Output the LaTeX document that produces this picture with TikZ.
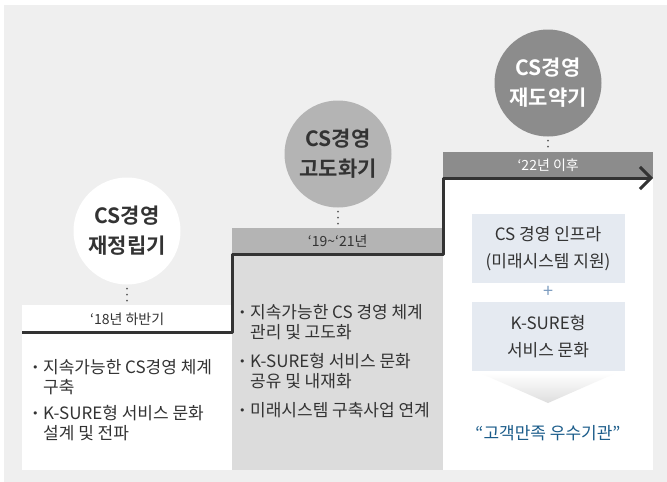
\documentclass[tikz,border=0pt]{standalone}
\usepackage{fontspec}
\setmainfont{Noto Sans CJK KR}[BoldFont={Noto Sans CJK KR Bold}]
\newfontfamily\symfont{DejaVu Sans}
\usetikzlibrary{arrows.meta}
\definecolor{bggray}{HTML}{EFEFEF}
\definecolor{bodygray}{HTML}{DCDCDC}
\definecolor{midgray}{HTML}{B4B4B4}
\definecolor{stepgray}{HTML}{8C8C8C}
\definecolor{boxblue}{HTML}{E5EAF1}
\definecolor{plusblue}{HTML}{7C9CC0}
\definecolor{quoteblue}{HTML}{1B5C8A}
\definecolor{txt}{HTML}{333333}
\newcommand{\bul}{\makebox[11pt][l]{\raisebox{1.5pt}{\symfont\fontsize{11}{11}\selectfont •}}}
\newcommand{\ind}{\hspace*{11pt}}
\tikzset{
  phase/.style={circle, minimum size=107pt, inner sep=0pt, align=center, font=\fontsize{21}{30}\selectfont\bfseries},
  band/.style={minimum width=210pt, minimum height=26pt, inner sep=0pt, anchor=north west, font=\fontsize{14}{16}\selectfont},
  dots/.style={line width=2pt, dash pattern=on 0pt off 6pt, line cap=round, color=txt!80, shorten <=4pt, shorten >=4pt},
  items/.style={align=left, anchor=west, inner sep=0pt, font=\fontsize{17}{20}\selectfont},
  infobox/.style={fill=boxblue, minimum width=153pt, minimum height=69pt, inner sep=0pt, align=center, font=\fontsize{17}{27}\selectfont},
  stepline/.style={line width=3pt, color=txt, -{Straight Barb[length=11pt, width=22pt]}}
}
\begin{document}
\begin{tikzpicture}[x=1pt, y=-1pt, line join=round, color=txt]
	\def\xa{22} \def\xb{232} \def\xc{443} \def\xd{653} \def\ybot{470}
	\useasboundingbox (0,0) rectangle (667,482);
	\fill[white] (0,0) rectangle (667,482);
	\fill[bggray] (4,5) rectangle (667,482);
	% panels
	\fill[white] (\xa,305) rectangle (\xb,\ybot);
	\fill[bodygray] (\xb,254) rectangle (\xc,\ybot);
	\fill[white] (\xc,178) rectangle (\xd,\ybot);
	% bands
	\node[band, fill=white] (b18) at (\xa,306) {‘18년 하반기};
	\node[band, fill=midgray, minimum width=211pt] (b19) at (\xb,228) {‘19\textasciitilde‘21년};
	\node[band, fill=stepgray, text=white] (b22) at (\xc,152) {‘22년 이후};
	% circles
	\node[phase, fill=white] (c18) at (127,231) {CS경영\\재정립기};
	\node[phase, fill=midgray] (c19) at (338,154) {CS경영\\고도화기};
	\node[phase, fill=stepgray, text=white] (c22) at (548,83) {CS경영\\재도약기};
	\foreach \c/\b in {c18/b18, c19/b19, c22/b22}
		\draw[dots] (\c.south) -- (\c.south |- \b.north);
	% step line
	\coordinate (s0) at (\xa,332);
	\coordinate (s1) at (\xb,254);
	\coordinate (s2) at (\xc,178);
	\coordinate (s3) at (\xd,178);
	\draw[stepline] (s0) -| (s1) -| (s2) -- (s3);
	% left
	\node[items] (l1) at (32,376.7) {\bul 지속가능한 CS경영 체계\\\ind 구축};
	\node[items] (l2) at (32,423) {\bul K-SURE형 서비스 문화\\\ind 설계 및 전파};
	% middle
	\node[items] (m1) at (239,321.7) {\bul 지속가능한 CS 경영 체계\\\ind 관리 및 고도화};
	\node[items] (m2) at (239,370.8) {\bul K-SURE형 서비스 문화\\\ind 공유 및 내재화};
	\node[items] (m3) at (239,410) {\bul 미래시스템 구축사업 연계};
	% right
	\node[infobox] (infra) at (548,248.5) {CS 경영 인프라\\(미래시스템 지원)};
	\node[infobox] (culture) at (548,336.5) {K-SURE형\\서비스 문화};
	\node[text=plusblue, font=\fontsize{18}{18}\selectfont] (plus) at (548,292) {+};
	\shade[top color=white, bottom color=black!13] (480,373) -- (616,373) -- (548,403) -- cycle;
	\node[text=quoteblue, font=\fontsize{17}{18}\selectfont] (goal) at (548,433) {“고객만족 우수기관”};
\end{tikzpicture}
\end{document}
